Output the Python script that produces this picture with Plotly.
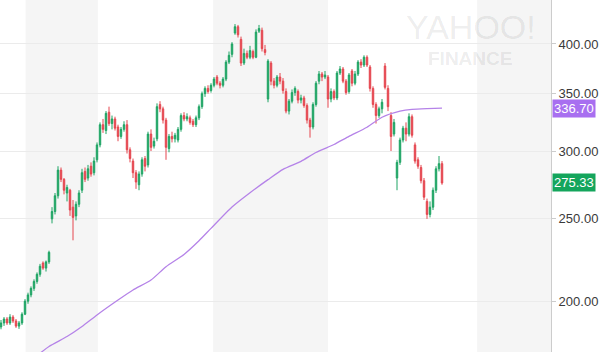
import math
import plotly.graph_objects as go

# ---- data (one candle per trading session) ----
opens = [187, 189, 191, 189, 192, 190, 187.4, 189, 193.5, 200.4, 203.8, 207.4, 211.3, 215.4, 222, 219, 222.7,
         250, 255, 266, 285, 278, 268, 270, 258, 252, 260, 270, 284, 279, 288, 283, 293, 305, 322, 317, 333,
         323, 327, 320, 312, 318, 322, 301, 292, 283, 274, 282, 294, 289, 314, 304, 310, 340, 336, 326, 302,
         312, 310, 309, 318, 330, 327, 328, 325, 322, 328, 338, 350, 355, 353, 358, 366, 360, 358, 364, 381,
         389, 412, 419, 405, 380, 390, 386, 392, 386, 414, 415, 394, 345, 380, 362, 358, 366, 362, 352, 334,
         343, 351, 352, 344, 346, 339, 326, 320, 340, 362, 369, 366, 366, 345, 352, 346, 370, 374, 362, 352,
         372, 360, 369, 381, 378, 386, 376, 355, 340, 330, 336, 377, 355, 330, 314, 279, 291, 309, 319, 314,
         329, 305, 293, 287, 277, 262, 253, 258, 270, 286, 290]
highs = [190.5, 192, 192, 193.5, 193, 191, 190, 194.5, 201.5, 205, 208.5, 212.5, 216.5, 221.5, 223, 223.5, 229.5,
         258, 268, 288, 287, 279, 274, 271, 263, 262, 270, 286, 287, 289, 291, 295, 307, 324, 327, 334, 338,
         330, 329, 322, 320, 325, 326, 303, 294, 285, 284, 295, 296, 316, 318, 311, 341, 343, 338, 328, 314,
         316, 315, 320, 332, 333, 332, 330, 327, 330, 340, 352, 357, 358, 360, 366, 368, 362, 366, 383, 392,
         402, 422, 421, 408, 395, 393, 398, 394, 416, 421, 418, 399, 384, 382, 365, 368, 370, 365, 355, 345,
         354, 357, 354, 349, 348, 341, 328, 342, 362, 372, 371, 372, 368, 355, 354, 372, 377, 376, 364, 370,
         374, 372, 383, 384, 388, 388, 378, 357, 342, 338, 345, 380, 358, 333, 327, 293, 311, 321, 324, 332,
         331, 307, 295, 289, 279, 264, 262, 272, 288, 296, 292]
lows = [185.8, 187.5, 188, 188, 189, 186.5, 186, 188, 193, 199, 202.5, 206, 210, 214, 218, 217, 221.5,
        247, 253, 264, 276, 267, 262, 252, 236, 249, 258, 268, 276, 277, 280, 281, 291, 303, 315, 314, 321,
        318, 317, 308, 310, 316, 298, 291, 279, 271, 270, 280, 284, 287, 300, 302, 308, 333, 323, 293, 299,
        307, 307, 307, 316, 325, 325, 322, 320, 320, 326, 336, 347, 350, 351, 356, 358, 355, 356, 362, 379,
        386, 410, 407, 377, 378, 384, 384, 384, 385, 412, 392, 388, 342, 358, 355, 356, 359, 350, 332, 331,
        341, 348, 341, 341, 337, 323, 311, 318, 338, 359, 362, 364, 337, 342, 344, 344, 368, 360, 349, 350,
        357, 358, 367, 375, 376, 376, 352, 337, 323, 328, 332, 354, 334, 300, 312, 270, 289, 307, 308, 312,
        311, 290, 286, 275, 263, 250, 251, 256, 268, 284, 274]
closes = [189, 191, 189, 192, 190, 187.4, 189, 193.5, 200.4, 203.8, 207.4, 211.3, 215.4, 220.1, 219, 222.7, 228.5,
          255, 266, 285, 278, 270, 272, 256, 251, 260, 268, 283, 278, 286, 282, 292, 305, 322, 318, 332, 323,
          327, 319, 312, 318, 322, 301, 294, 283, 276, 282, 293, 288, 314, 303, 308, 338, 336, 326, 303, 312,
          310, 313, 318, 330, 327, 329, 324, 322, 328, 338, 350, 355, 352, 358, 364, 360, 358, 364, 381, 388,
          400, 419, 410, 380, 390, 386, 393, 386, 413, 417, 395, 391, 382, 362, 358, 366, 362, 353, 334, 343,
          351, 355, 344, 346, 339, 326, 320, 340, 360, 369, 366, 368, 345, 352, 346, 370, 374, 362, 351, 368,
          360, 369, 381, 378, 386, 378, 355, 340, 330, 336, 342, 356, 338, 312, 324, 291, 309, 319, 314, 329,
          313, 292, 288, 277, 265, 253, 258, 270, 286, 290, 275.33]
sessions = list(range(len(closes)))

# moving average, sampled at sessions
ma_sessions = [11, 16, 22, 27, 32, 39, 44, 50, 55, 61, 66, 70, 77, 83, 89, 94, 100, 105, 111, 116, 122,
               127, 133, 137, 142, 147]
ma_values = [172, 177.4, 182.2, 187.2, 193.1, 201.0, 206.5, 212.1, 219.8, 227.2, 235.7, 243.7, 258.1,
             268.2, 277.8, 285.6, 291.8, 298.8, 305.3, 312.0, 319.8, 328.5, 333.9, 335.6, 336.3, 336.7]

tick_values = [200, 250, 300, 350, 400]
tick_labels = ["200.00", "250.00", "300.00", "350.00", "400.00"]

# alternating period bands (session boundaries)
band_starts = [8.2, 70.7, 158.7]
band_ends = [32.3, 109.0, 184.0]

last_ma = 336.70
last_close = 275.33

GREEN = "#1ea464"
RED = "#e5464f"
PURPLE = "#b583e8"
FONT = "Liberation Sans, Arial, sans-serif"
WATERMARK = "rgba(0,0,0,0.085)"

fig = go.Figure()
fig.add_trace(go.Candlestick(
    x=sessions, open=opens, high=highs, low=lows, close=closes,
    increasing=dict(line=dict(color=GREEN, width=1), fillcolor=GREEN),
    decreasing=dict(line=dict(color=RED, width=1), fillcolor=RED),
    whiskerwidth=0, showlegend=False, hoverinfo="skip",
))
fig.add_trace(go.Scatter(
    x=ma_sessions, y=ma_values, mode="lines",
    line=dict(color=PURPLE, width=1.3, shape="spline", smoothing=0.6),
    showlegend=False, hoverinfo="skip",
))

for s, e in zip(band_starts, band_ends):
    fig.add_shape(type="rect", xref="x", yref="paper", x0=s, x1=e, y0=0, y1=1,
                  fillcolor="#f5f5f5", line=dict(width=0), layer="below")

fig.add_annotation(xref="paper", yref="y", x=1, y=math.log10(last_ma), xanchor="left", yanchor="middle",
                   text=f"{last_ma:.2f}", showarrow=False, bgcolor="#a86ff0", borderpad=1, xshift=1,
                   font=dict(color="white", size=13, family=FONT))
fig.add_annotation(xref="paper", yref="y", x=1, y=math.log10(last_close), xanchor="left", yanchor="middle",
                   text=f"{last_close:.2f}", showarrow=False, bgcolor="#14a55c", borderpad=1, xshift=1,
                   font=dict(color="white", size=13, family=FONT))

# watermark
fig.add_annotation(xref="paper", yref="paper", x=471 / 551, y=1 - 27 / 352, text="YAHOO!", showarrow=False,
                   xanchor="center", yanchor="middle",
                   font=dict(color=WATERMARK, size=34, family=FONT))
fig.add_annotation(xref="paper", yref="paper", x=470 / 551, y=1 - 58 / 352, text="<b>FINANCE</b>",
                   showarrow=False, xanchor="center", yanchor="middle",
                   font=dict(color=WATERMARK, size=19, family=FONT))

fig.update_layout(
    width=606, height=352,
    margin=dict(l=0, r=55, t=0, b=0),
    paper_bgcolor="white", plot_bgcolor="white",
    xaxis=dict(range=[-1 / 3, 551 / 3 - 1 / 3], showticklabels=False, showgrid=False, zeroline=False,
               rangeslider=dict(visible=False), fixedrange=True),
    yaxis=dict(type="log", side="right", range=[math.log10(174.8), math.log10(450.2)],
               tickvals=tick_values, ticktext=tick_labels, showgrid=True, gridcolor="#ebebeb",
               gridwidth=1, zeroline=False, showline=True, linecolor="#cccccc", linewidth=1,
               ticks="outside", ticklen=4, tickcolor="#cccccc", automargin=False,
               tickfont=dict(size=13, color="#3a3a3a", family=FONT)),
)

fig.write_html("out.html")
